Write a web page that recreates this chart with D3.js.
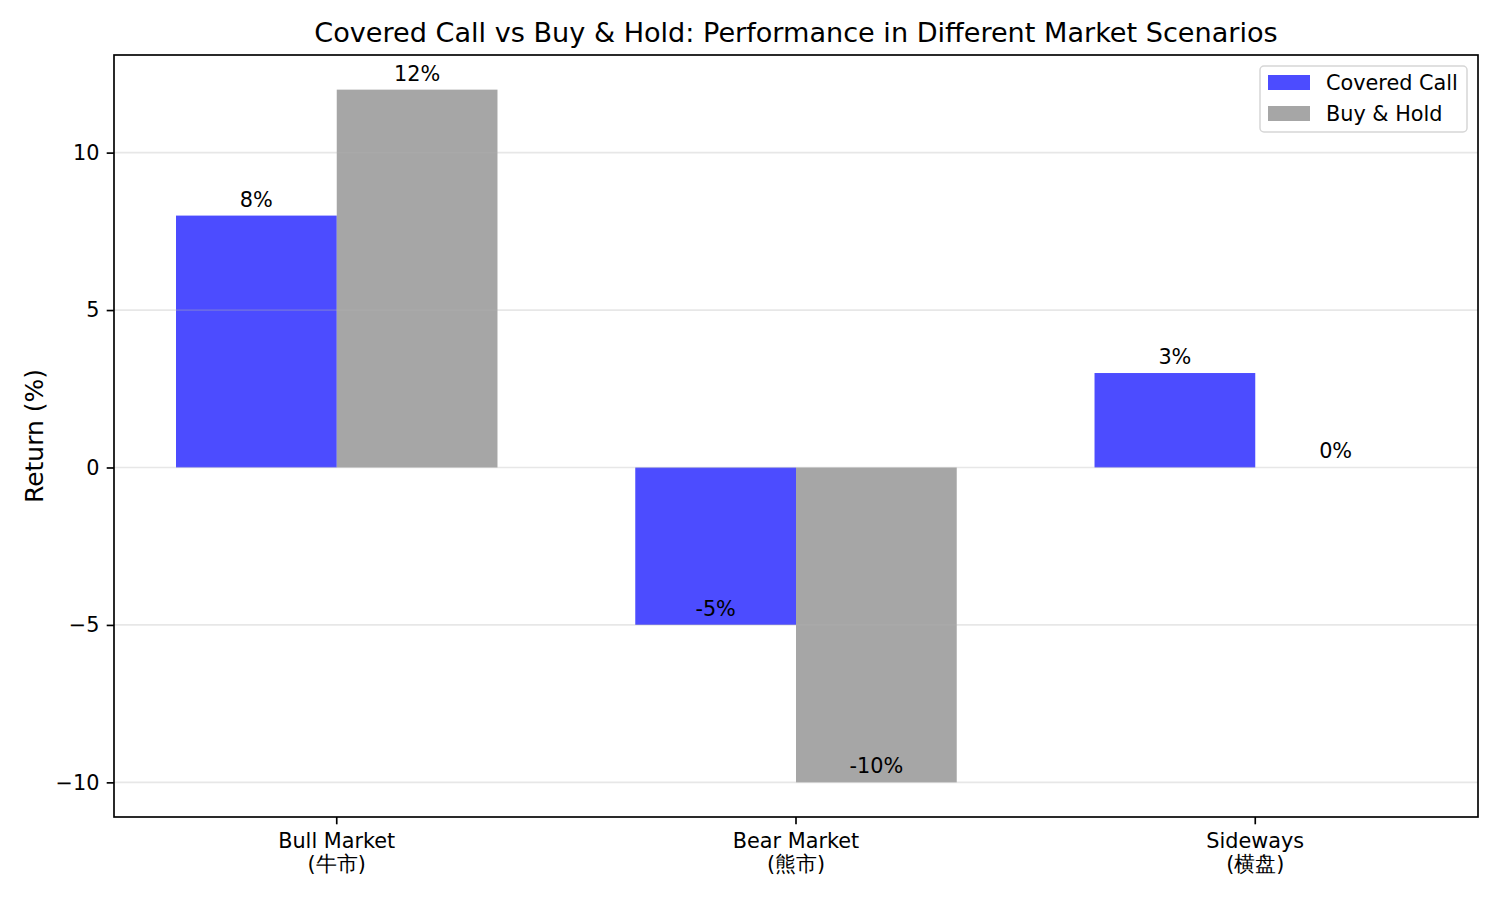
<!DOCTYPE html>
<html>
<head>
<meta charset="utf-8">
<script src="https://cdn.jsdelivr.net/npm/d3@7"></script>
<style>
  body { margin: 0; background: #fff; }
  svg { display: block; font-family: "DejaVu Sans", sans-serif; }
</style>
</head>
<body>
<div id="chart"></div>
<script>
// chart data
const scenarioNames = ["Bull Market", "Bear Market", "Sideways"];
const scenarioSub = ["(牛市)", "(熊市)", "(横盘)"];
const coveredCall = [8, -5, 3];
const buyHold = [12, -10, 0];
const seriesNames = ["Covered Call", "Buy & Hold"];
const yTickValues = [-10, -5, 0, 5, 10];

var width = 1500;
var height = 900;
var margin = { top: 55, right: 22, bottom: 83, left: 114 };

var colors = ["rgba(0,0,255,0.7)", "rgba(128,128,128,0.7)"];
var barWidth = 0.35;
var fs = 20.8;          // 10pt at 150 dpi
var lw = 1.67;          // 0.8pt

var svg = d3.select("#chart").append("svg")
    .attr("width", width)
    .attr("height", height);

// x uses category index, like matplotlib with 5% margins
var xMin = -barWidth, xMax = scenarioNames.length - 1 + barWidth;
var xPad = (xMax - xMin) * 0.05;
var x = d3.scaleLinear()
    .domain([xMin - xPad, xMax + xPad])
    .range([margin.left, width - margin.right]);

var allVals = coveredCall.concat(buyHold);
var yLo = d3.min(allVals), yHi = d3.max(allVals);
var yPad = (yHi - yLo) * 0.05;
var y = d3.scaleLinear()
    .domain([yLo - yPad, yHi + yPad])
    .range([height - margin.bottom, margin.top]);

var series = [coveredCall, buyHold];
var offsets = [-barWidth, 0];

// bars
series.forEach(function (vals, s) {
    svg.append("g").selectAll("rect")
        .data(vals)
        .enter().append("rect")
        .attr("x", function (d, i) { return x(i + offsets[s]); })
        .attr("width", function () { return x(barWidth) - x(0); })
        .attr("y", function (d) { return y(Math.max(0, d)); })
        .attr("height", function (d) { return Math.abs(y(d) - y(0)); })
        .attr("fill", colors[s]);
});

// grid on top of bars (matplotlib default zorder)
svg.append("g").selectAll("line")
    .data(yTickValues)
    .enter().append("line")
    .attr("x1", margin.left)
    .attr("x2", width - margin.right)
    .attr("y1", function (d) { return y(d); })
    .attr("y2", function (d) { return y(d); })
    .attr("stroke", "#b0b0b0")
    .attr("stroke-opacity", 0.3)
    .attr("stroke-width", lw);

// value labels
series.forEach(function (vals, s) {
    svg.append("g").selectAll("text")
        .data(vals)
        .enter().append("text")
        .attr("x", function (d, i) { return x(i + offsets[s] + barWidth / 2); })
        .attr("y", function (d) { return y(d) - 9; })
        .attr("text-anchor", "middle")
        .attr("font-size", fs + "px")
        .attr("fill", "#000")
        .text(function (d) { return d + "%"; });
});

// y axis
var yAxis = d3.axisLeft(y)
    .tickValues(yTickValues)
    .tickSize(7.3)
    .tickPadding(7.3)
    .tickFormat(function (d) { return d < 0 ? "\u2212" + Math.abs(d) : d; });

var gy = svg.append("g")
    .attr("transform", "translate(" + margin.left + ",0)")
    .call(yAxis);
gy.select(".domain").remove();
gy.selectAll("line").attr("stroke", "#000").attr("stroke-width", lw);
gy.selectAll("text").attr("font-size", fs + "px").attr("font-family", "DejaVu Sans").attr("fill", "#000");

// x ticks
var xTicks = svg.append("g");
scenarioNames.forEach(function (name, i) {
    var cx = x(i);
    xTicks.append("line")
        .attr("x1", cx).attr("x2", cx)
        .attr("y1", height - margin.bottom)
        .attr("y2", height - margin.bottom + 7.3)
        .attr("stroke", "#000")
        .attr("stroke-width", lw);
    var t = xTicks.append("text")
        .attr("text-anchor", "middle")
        .attr("font-size", fs + "px")
        .attr("fill", "#000");
    t.append("tspan").attr("x", cx).attr("y", 848).text(name);
    t.append("tspan").attr("x", cx).attr("y", 871).text(scenarioSub[i]);
});

// frame
svg.append("rect")
    .attr("x", margin.left)
    .attr("y", margin.top)
    .attr("width", width - margin.left - margin.right)
    .attr("height", height - margin.top - margin.bottom)
    .attr("fill", "none")
    .attr("stroke", "#000")
    .attr("stroke-width", lw);

// title
svg.append("text")
    .attr("x", (margin.left + width - margin.right) / 2)
    .attr("y", 42)
    .attr("text-anchor", "middle")
    .attr("font-size", "27.1px")
    .text("Covered Call vs Buy & Hold: Performance in Different Market Scenarios");

// y label
svg.append("text")
    .attr("transform", "translate(43," + (margin.top + height - margin.bottom) / 2 + ") rotate(-90)")
    .attr("text-anchor", "middle")
    .attr("font-size", "25px")
    .text("Return (%)");

// legend
var legend = svg.append("g").attr("transform", "translate(1260,66)");
legend.append("rect")
    .attr("width", 207)
    .attr("height", 66)
    .attr("rx", 4)
    .attr("fill", "rgba(255,255,255,0.8)")
    .attr("stroke", "#d6d6d6")
    .attr("stroke-width", 1.5);
seriesNames.forEach(function (name, i) {
    var row = legend.append("g").attr("transform", "translate(0," + (16.5 + i * 31) + ")");
    row.append("rect")
        .attr("x", 8)
        .attr("y", -7.5)
        .attr("width", 42)
        .attr("height", 15)
        .attr("fill", colors[i]);
    row.append("text")
        .attr("x", 66)
        .attr("y", 7)
        .attr("font-size", fs + "px")
        .text(name);
});
</script>
</body>
</html>
